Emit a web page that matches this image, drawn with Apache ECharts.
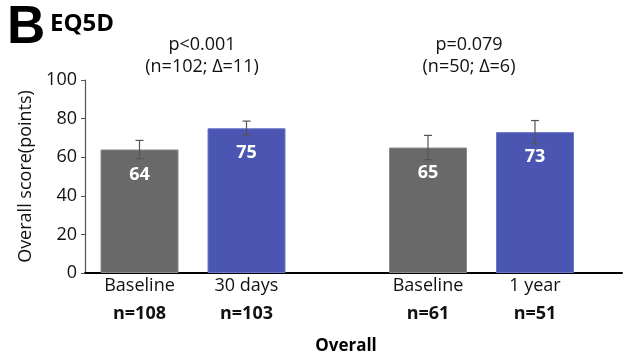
<!DOCTYPE html>
<html><head><meta charset="utf-8">
<script src="https://cdn.jsdelivr.net/npm/echarts@6/dist/echarts.min.js"></script>
<style>html,body{margin:0;padding:0;background:#fff}#c{width:635px;height:358px}</style>
</head><body><div id="c"></div>
<script>
// ---- data ----
var yTicks = [0, 20, 40, 60, 80, 100];
var categories1 = ['Baseline', '30 days'];
var nLabels1 = ['n=108', 'n=103'];
var values1 = [64, 75];
var errors1 = [4.7, 3.7];
var categories2 = ['Baseline', '1 year'];
var nLabels2 = ['n=61', 'n=51'];
var values2 = [65, 73];
var errors2 = [6.3, 6.0];
var pText1 = ['p<0.001', '(n=102; Δ=11)'];
var pText2 = ['p=0.079', '(n=50; Δ=6)'];
var barColors = ['#696969', '#4a56b2'];
var barBorders = ['#8a8a8a', '#6a78cc'];

var FONT = '"Open Sans", "Liberation Sans", sans-serif';

function errData(vals, errs) {
  return vals.map(function (v, i) { return [i, v - errs[i], v + errs[i]]; });
}
function errRender(params, api) {
  var x = api.value(0);
  var lo = api.coord([x, api.value(1)]);
  var hi = api.coord([x, api.value(2)]);
  var w = 4;
  var st = { stroke: '#555', lineWidth: 1.2 };
  return { type: 'group', children: [
    { type: 'line', shape: { x1: hi[0], y1: hi[1], x2: lo[0], y2: lo[1] }, style: st },
    { type: 'line', shape: { x1: hi[0] - w, y1: hi[1], x2: hi[0] + w, y2: hi[1] }, style: st },
    { type: 'line', shape: { x1: lo[0] - w, y1: lo[1], x2: lo[0] + w, y2: lo[1] }, style: st }
  ]};
}
function barData(vals) {
  return vals.map(function (v, i) {
    return { value: v, itemStyle: { color: barColors[i], borderColor: barBorders[i], borderWidth: 1 } };
  });
}
function xLabelFmt(cats, ns) {
  return function (val, idx) { return '{a|' + cats[idx] + '}\n{b|' + ns[idx] + '}'; };
}
var xRich = {
  a: { fontFamily: FONT, fontSize: 18, color: '#111', lineHeight: 22 },
  b: { fontFamily: FONT, fontSize: 18, fontWeight: 'bold', color: '#111', lineHeight: 34 }
};

var chart = echarts.init(document.getElementById('c'));
var gridTop = 80, gridBottom = 85;
var hiddenY = { type: 'value', min: yTicks[0], max: yTicks[yTicks.length - 1], interval: 20, show: false };
var pStyle = { fontFamily: FONT, fontSize: 18, fontWeight: 'normal', color: '#111' };
chart.setOption({
  animation: false,
  title: [
    { text: 'B', left: 2, top: -3, textStyle: { fontFamily: '"Liberation Sans", sans-serif', fontSize: 53, fontWeight: 'bold', color: '#000' } },
    { text: 'EQ5D', left: 45, top: 7, textStyle: { fontFamily: FONT, fontSize: 24, fontWeight: 'bold', color: '#000' } },
    { text: pText1[0], left: 197, top: 31, textAlign: 'center', textStyle: pStyle },
    { text: pText1[1], left: 197, top: 53, textAlign: 'center', textStyle: pStyle },
    { text: pText2[0], left: 464, top: 31, textAlign: 'center', textStyle: pStyle },
    { text: pText2[1], left: 464, top: 53, textAlign: 'center', textStyle: pStyle },
    { text: 'Overall', left: 341, top: 333, textAlign: 'center', textStyle: { fontFamily: FONT, fontSize: 17, fontWeight: 'bold', color: '#000' } }
  ],
  grid: [
    { left: 85, right: 13, top: gridTop, bottom: gridBottom },
    { left: 86, width: 214, top: gridTop, bottom: gridBottom },
    { left: 374.5, width: 214, top: gridTop, bottom: gridBottom }
  ],
  xAxis: [
    { gridIndex: 0, type: 'category', data: [''], axisLine: { lineStyle: { color: '#000', width: 2 } }, axisTick: { show: false }, axisLabel: { show: false } },
    { gridIndex: 1, type: 'category', data: categories1, axisLine: { show: false }, axisTick: { show: false },
      axisLabel: { margin: 2, formatter: xLabelFmt(categories1, nLabels1), rich: xRich } },
    { gridIndex: 2, type: 'category', data: categories2, axisLine: { show: false }, axisTick: { show: false },
      axisLabel: { margin: 2, formatter: xLabelFmt(categories2, nLabels2), rich: xRich } }
  ],
  yAxis: [
    { gridIndex: 0, type: 'value', min: yTicks[0], max: yTicks[yTicks.length - 1], interval: 20,
      name: 'Overall score(points)', nameLocation: 'middle', nameGap: 47,
      nameTextStyle: { fontFamily: FONT, fontSize: 18, color: '#111' },
      axisLine: { show: true, lineStyle: { color: '#555', width: 1.2 } },
      axisTick: { show: true, length: 4, lineStyle: { color: '#555' } },
      axisLabel: { fontFamily: FONT, fontSize: 18, color: '#111', margin: 8 },
      splitLine: { show: false } },
    Object.assign({ gridIndex: 1 }, hiddenY),
    Object.assign({ gridIndex: 2 }, hiddenY)
  ],
  series: [
    { type: 'bar', xAxisIndex: 1, yAxisIndex: 1, barWidth: 78, data: barData(values1),
      label: { show: true, position: 'insideTop', distance: 16, fontFamily: FONT, fontSize: 18, fontWeight: 'bold', color: '#fff' } },
    { type: 'bar', xAxisIndex: 2, yAxisIndex: 2, barWidth: 78, data: barData(values2),
      label: { show: true, position: 'insideTop', distance: 16, fontFamily: FONT, fontSize: 18, fontWeight: 'bold', color: '#fff' } },
    { type: 'custom', xAxisIndex: 1, yAxisIndex: 1, data: errData(values1, errors1), renderItem: errRender, z: 5 },
    { type: 'custom', xAxisIndex: 2, yAxisIndex: 2, data: errData(values2, errors2), renderItem: errRender, z: 5 }
  ]
});
</script></body></html>
